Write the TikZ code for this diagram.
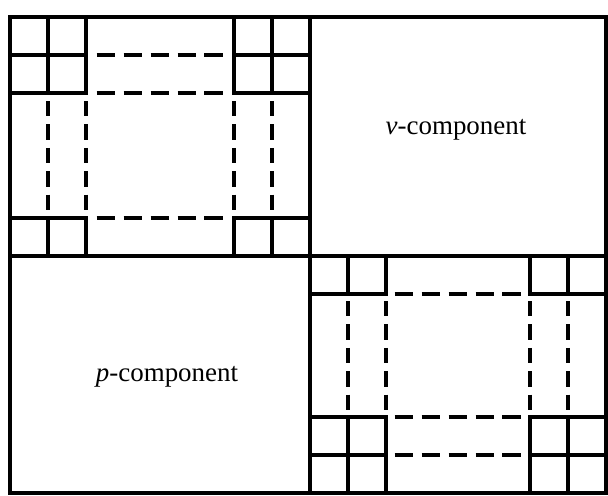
\documentclass[tikz,border=0pt]{standalone}
\usepackage{fontspec}
\setmainfont{Liberation Serif}
\usepackage{tikz}

\begin{document}
\begin{tikzpicture}[x=0.03cm, y=-0.03cm,
    wall/.style={line width=3pt},
    gaph/.style={line width=3pt, dash pattern=on 16pt off 7pt},
    gapv/.style={line width=3pt, dash pattern=on 13pt off 7pt},
    lbl/.style={font=\fontsize{23}{27}\selectfont}]
  \useasboundingbox (0,0) rectangle (608,495);
  % frame and the four blocks
  \draw[wall] (10,17) rectangle (606,493);
  \draw[wall] (310,17) -- (310,493);
  \draw[wall] (10,256) -- (606,256);
  % corner cells
  \foreach \x/\y in {10/17,48/17,10/55,48/55,234/17,272/17,234/55,272/55,
      10/218,48/218,234/218,272/218,
      310/256,348/256,530/256,568/256,
      310/417,348/417,310/455,348/455,530/417,568/417,530/455,568/455}
    \draw[wall] (\x,\y) rectangle ++(38,38);
  % upper left block
  \foreach \y in {55,93,218} \draw[gaph] (96.7,\y) -- (223.3,\y);
  \foreach \x in {48,86,234,272} \draw[gapv] (\x,101) -- (\x,210);
  % lower right block
  \foreach \y in {294,417,455} \draw[gaph] (394.7,\y) -- (521.3,\y);
  \foreach \x in {348,386,530,568} \draw[gapv] (\x,301) -- (\x,410);
  % labels
  \node[lbl] (vcomp) at (456,130) {\textit{v}-component};
  \node[lbl] (pcomp) at (167,377) {\textit{p}-component};
\end{tikzpicture}
\end{document}
